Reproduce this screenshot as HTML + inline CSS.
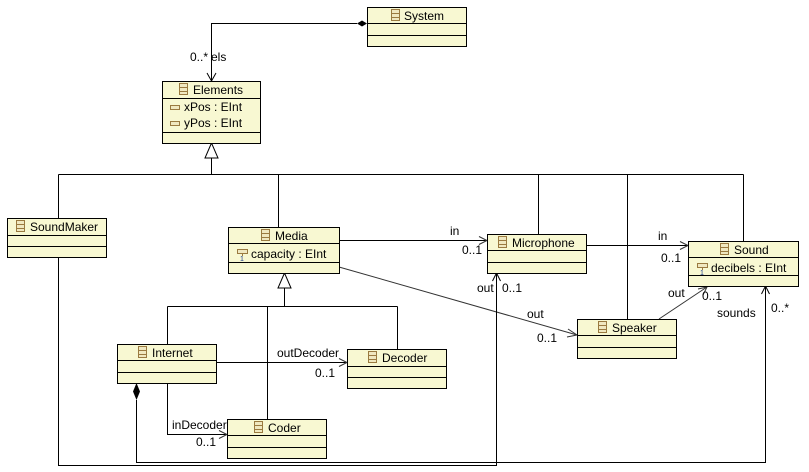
<!DOCTYPE html>
<html><head><meta charset="utf-8"><style>
html,body{margin:0;padding:0;background:#fff;width:809px;height:472px;overflow:hidden}
svg{display:block}
text{font-family:"Liberation Sans","DejaVu Sans",sans-serif;font-size:12px;fill:#000}
.b{fill:#f8f8d2;stroke:#000;stroke-width:1}
.l{stroke:#000;stroke-width:1;fill:none}
.g{stroke:#333;stroke-width:1;fill:none}
</style></head><body>
<svg width="809" height="472" viewBox="0 0 809 472" xmlns="http://www.w3.org/2000/svg">
<defs>
<g id="ic"><rect x="0.5" y="0.5" width="8" height="11" fill="#f0e8c0" stroke="#9a7a40"/><line x1="1" y1="4.5" x2="8" y2="4.5" stroke="#9a7a40"/><line x1="1" y1="8.5" x2="8" y2="8.5" stroke="#9a7a40"/></g>
<g id="at"><rect x="0.5" y="0.5" width="9" height="4" fill="#f0e8c0" stroke="#9a7a40"/></g>
<g id="at1"><rect x="0.5" y="0.5" width="10" height="4" fill="#f0e8c0" stroke="#9a7a40"/><line x1="5.5" y1="5" x2="5.5" y2="7" stroke="#9a7a40"/><text x="3" y="12" style="font-size:7px;fill:#1a3a8a">1</text></g>
</defs>

<!-- connectors -->
<!-- System -> Elements composition -->
<polyline class="l" points="357,23.5 211.5,23.5 211.5,81"/>
<polygon points="357,23.5 362,20.5 367,23.5 362,26.5" fill="#000"/>
<polyline class="l" points="207,73 211.5,81 216,73"/>
<text x="190" y="61">0..*</text><text x="211" y="61">els</text>

<!-- Generalization to Elements -->
<polygon points="211.5,143 205,158 218,158" fill="#fff" stroke="#000"/>
<line class="l" x1="211.5" y1="158" x2="211.5" y2="174.5"/>
<line class="l" x1="58.5" y1="174.5" x2="743.5" y2="174.5"/>
<line class="l" x1="58.5" y1="174.5" x2="58.5" y2="218"/>
<line class="l" x1="278.5" y1="174.5" x2="278.5" y2="227"/>
<line class="l" x1="538.5" y1="174.5" x2="538.5" y2="234"/>
<line class="l" x1="627.5" y1="174.5" x2="627.5" y2="319"/>
<line class="l" x1="743.5" y1="174.5" x2="743.5" y2="241"/>

<!-- Generalization to Media -->
<polygon points="284.5,273 278,288 291,288" fill="#fff" stroke="#000"/>
<line class="l" x1="284.5" y1="288" x2="284.5" y2="306.5"/>
<line class="l" x1="167.5" y1="306.5" x2="397.5" y2="306.5"/>
<line class="l" x1="167.5" y1="306.5" x2="167.5" y2="344"/>
<line class="l" x1="267.5" y1="306.5" x2="267.5" y2="419"/>
<line class="l" x1="397.5" y1="306.5" x2="397.5" y2="350"/>

<!-- Media -> Microphone in -->
<line class="l" x1="339" y1="240.5" x2="487" y2="240.5"/>
<polyline class="g" points="479,236.5 487,240.5 479,244.5"/>
<text x="450" y="235">in</text><text x="462" y="254">0..1</text>

<!-- Microphone -> Sound in -->
<line class="l" x1="586" y1="245.5" x2="688" y2="245.5"/>
<polyline class="g" points="680,241.5 688,245.5 680,249.5"/>
<text x="658" y="240">in</text><text x="661" y="262">0..1</text>

<!-- Media -> Speaker out -->
<line class="g" x1="339" y1="267" x2="577" y2="335"/>
<polyline class="g" points="568,329 577,335 567,337"/>
<text x="527" y="318">out</text><text x="537" y="342">0..1</text>

<!-- Speaker -> Sound out -->
<line class="g" x1="659" y1="319" x2="707" y2="287"/>
<polyline class="g" points="698,289 707,287 703,295"/>
<text x="668" y="297">out</text><text x="702" y="300">0..1</text>

<!-- SoundMaker -> Microphone out -->
<polyline class="l" points="58.5,257 58.5,465.5 496.5,465.5 496.5,273"/>
<polyline class="l" points="492.5,281 496.5,273 500.5,281"/>
<text x="477" y="292">out</text><text x="502" y="292">0..1</text>

<!-- Internet -> Sound sounds composition -->
<polyline class="l" points="136.5,400 136.5,462.5 765.5,462.5 765.5,286"/>
<polygon points="136.5,383 133,391.5 136.5,400 140,391.5" fill="#000"/>
<polyline class="l" points="761.5,294 765.5,286 769.5,294"/>
<text x="717" y="317">sounds</text><text x="771" y="312">0..*</text>

<!-- Internet -> Decoder outDecoder -->
<line class="l" x1="216" y1="362.5" x2="347" y2="362.5"/>
<polyline class="g" points="339,358.5 347,362.5 339,366.5"/>
<text x="277" y="357">outDecoder</text><text x="315" y="377">0..1</text>

<!-- Internet -> Coder inDecoder -->
<polyline class="l" points="167.5,383 167.5,434.5 227,434.5"/>
<polyline class="g" points="219,430.5 227,434.5 219,438.5"/>
<text x="172" y="429">inDecoder</text><text x="196" y="446">0..1</text>

<!-- boxes -->
<!-- System -->
<rect class="b" x="367.5" y="7.5" width="99" height="39"/>
<line class="l" x1="367.5" y1="23.5" x2="466.5" y2="23.5"/><line class="l" x1="367.5" y1="35.5" x2="466.5" y2="35.5"/>
<use href="#ic" x="391" y="9"/><text x="404" y="20">System</text>

<!-- Elements -->
<rect class="b" x="162.5" y="81.5" width="98" height="62"/>
<line class="l" x1="162.5" y1="98.5" x2="260.5" y2="98.5"/><line class="l" x1="162.5" y1="132.5" x2="260.5" y2="132.5"/>
<use href="#ic" x="179" y="83"/><text x="193" y="94">Elements</text>
<use href="#at" x="170" y="105"/><text x="184" y="111">xPos : EInt</text>
<use href="#at" x="170" y="121"/><text x="184" y="127">yPos : EInt</text>

<!-- SoundMaker -->
<rect class="b" x="7.5" y="218.5" width="99" height="39"/>
<line class="l" x1="7.5" y1="235.5" x2="106.5" y2="235.5"/><line class="l" x1="7.5" y1="246.5" x2="106.5" y2="246.5"/>
<use href="#ic" x="16" y="220"/><text x="30" y="231">SoundMaker</text>

<!-- Media -->
<rect class="b" x="228.5" y="227.5" width="111" height="46"/>
<line class="l" x1="228.5" y1="243.5" x2="339.5" y2="243.5"/><line class="l" x1="228.5" y1="262.5" x2="339.5" y2="262.5"/>
<use href="#ic" x="261" y="229"/><text x="275" y="240">Media</text>
<use href="#at1" x="237" y="249"/><text x="251" y="258">capacity : EInt</text>

<!-- Microphone -->
<rect class="b" x="487.5" y="234.5" width="99" height="39"/>
<line class="l" x1="487.5" y1="250.5" x2="586.5" y2="250.5"/><line class="l" x1="487.5" y1="262.5" x2="586.5" y2="262.5"/>
<use href="#ic" x="498" y="236"/><text x="512" y="247">Microphone</text>

<!-- Sound -->
<rect class="b" x="688.5" y="241.5" width="110" height="45"/>
<line class="l" x1="688.5" y1="257.5" x2="798.5" y2="257.5"/><line class="l" x1="688.5" y1="275.5" x2="798.5" y2="275.5"/>
<use href="#ic" x="720" y="243"/><text x="734" y="254">Sound</text>
<use href="#at1" x="697" y="263"/><text x="711" y="272">decibels : EInt</text>

<!-- Speaker -->
<rect class="b" x="577.5" y="319.5" width="99" height="39"/>
<line class="l" x1="577.5" y1="335.5" x2="676.5" y2="335.5"/><line class="l" x1="577.5" y1="347.5" x2="676.5" y2="347.5"/>
<use href="#ic" x="598" y="321"/><text x="612" y="332">Speaker</text>

<!-- Internet -->
<rect class="b" x="117.5" y="344.5" width="99" height="39"/>
<line class="l" x1="117.5" y1="360.5" x2="216.5" y2="360.5"/><line class="l" x1="117.5" y1="372.5" x2="216.5" y2="372.5"/>
<use href="#ic" x="138" y="346"/><text x="152" y="357">Internet</text>

<!-- Decoder -->
<rect class="b" x="347.5" y="349.5" width="99" height="39"/>
<line class="l" x1="347.5" y1="366.5" x2="446.5" y2="366.5"/><line class="l" x1="347.5" y1="377.5" x2="446.5" y2="377.5"/>
<use href="#ic" x="368" y="351"/><text x="382" y="362">Decoder</text>

<!-- Coder -->
<rect class="b" x="227.5" y="419.5" width="99" height="39"/>
<line class="l" x1="227.5" y1="435.5" x2="326.5" y2="435.5"/><line class="l" x1="227.5" y1="447.5" x2="326.5" y2="447.5"/>
<use href="#ic" x="254" y="421"/><text x="268" y="432">Coder</text>
</svg>
</body></html>
